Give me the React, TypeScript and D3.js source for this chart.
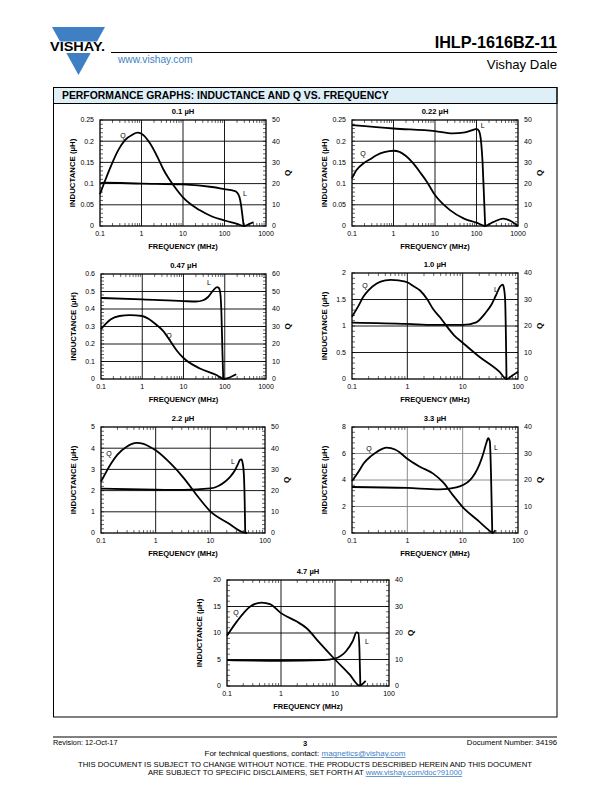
import React from 'react';
import * as d3 from 'd3';

const FONT = "'Liberation Sans', Arial, Helvetica, sans-serif";
const BLUE = '#3f7fc4';

// ---------- DATA ----------
// 0.1 uH
const c1_Lf = [0.1, 0.12, 1, 10, 50, 100, 170, 200, 230, 250, 270, 290];
const c1_Lv = [0.1, 0.102, 0.1, 0.098, 0.092, 0.087, 0.083, 0.079, 0.068, 0.05, 0.025, 0];
const c1_Qf = [0.1, 0.13, 0.19, 0.28, 0.4, 0.6, 0.8, 1.0, 1.6, 2.5, 3.3, 4.5, 6, 10, 25, 50, 100, 200, 300, 400, 500];
const c1_Qv = [15, 21, 29, 36, 40.5, 43, 44, 43.5, 39, 32, 27, 22.5, 19, 13.5, 7.5, 4.5, 2.6, 1, 0, 1, 1.8];
// 0.22 uH
const c2_Lf = [0.1, 1, 10, 27, 48, 80, 100, 115, 130, 140, 150, 162];
const c2_Lv = [0.238, 0.23, 0.224, 0.2185, 0.22, 0.226, 0.229, 0.224, 0.195, 0.15, 0.08, 0];
const c2_Qf = [0.1, 0.13, 0.19, 0.3, 0.4, 0.6, 1, 1.4, 2, 3, 4.5, 6.3, 10, 23, 50, 100, 160, 250, 440, 650, 1000];
const c2_Qv = [22.5, 26.5, 29.6, 32, 33.5, 34.8, 35.5, 35, 33, 29.5, 25, 21, 14.6, 7.5, 3.5, 1.6, 0, 1.8, 3.5, 2.5, 0];
// 0.47 uH
const c3_Lf = [0.1, 1, 10, 20, 30, 40, 52, 65, 72, 78, 83, 88, 92];
const c3_Lv = [0.463, 0.455, 0.445, 0.443, 0.45, 0.47, 0.505, 0.525, 0.52, 0.49, 0.38, 0.15, 0];
const c3_Qf = [0.1, 0.13, 0.17, 0.28, 0.5, 1, 1.5, 2.2, 3.2, 5, 7, 10, 25, 63, 95, 135, 190];
const c3_Qv = [28.5, 31.5, 34, 36, 36.5, 36, 34, 31, 27.5, 21, 16, 12, 6, 2.3, 0, 1, 2.7];
// 1.0 uH
const c4_Lf = [0.1, 1, 3, 10, 17.6, 26, 33, 40, 48, 53, 56, 58.5, 60.5, 62];
const c4_Lv = [1.065, 1.04, 1.02, 1.02, 1.07, 1.25, 1.4, 1.58, 1.75, 1.78, 1.7, 1.5, 0.8, 0];
const c4_Qf = [0.1, 0.13, 0.16, 0.2, 0.28, 0.4, 0.5, 0.7, 1, 1.3, 1.7, 2.3, 2.9, 4, 5.1, 7, 10, 20, 46, 62, 79, 100];
const c4_Qv = [23.5, 27.5, 31, 33.5, 36, 37.2, 37.4, 37.2, 36.5, 35, 33.4, 30, 26.5, 23, 20, 16.5, 13.7, 8.4, 2.75, 0, 1.3, 2.8];
// 2.2 uH
const c5_Lf = [0.1, 1, 3.3, 10, 14, 18.5, 23, 28.4, 32, 35, 37, 39, 41, 42.5, 43.5];
const c5_Lv = [2.09, 2.04, 2.03, 2.1, 2.22, 2.42, 2.65, 2.97, 3.25, 3.45, 3.47, 3.3, 2.8, 1.5, 0];
const c5_Qf = [0.1, 0.153, 0.2, 0.29, 0.45, 0.6, 0.79, 1, 1.87, 3.3, 5.9, 10, 21, 40, 47];
const c5_Qv = [24.2, 32.8, 37, 40.6, 42.5, 42, 40.6, 39, 32.8, 25.8, 17.2, 10.2, 4.7, 0.3, 0];
// 3.3 uH
const c6_Lf = [0.1, 1, 3.86, 7.7, 13.4, 20.2, 24, 26.6, 29, 31, 32.5, 34.3];
const c6_Lv = [3.47, 3.4, 3.3, 3.45, 3.97, 5.2, 6.1, 6.75, 7.15, 6.9, 4.5, 0];
const c6_Qf = [0.1, 0.13, 0.162, 0.22, 0.28, 0.425, 0.6, 0.74, 1, 1.69, 2.93, 4.4, 6.7, 10, 20.2, 32.7, 35, 39];
const c6_Qv = [19.6, 23, 26.2, 29, 30.6, 32.2, 31.5, 30.3, 28, 25, 22.4, 19.2, 14.2, 9.8, 4.2, 0.4, 0, 1];
// 4.7 uH
const c7_Lf = [0.1, 1, 6, 10, 16, 21.2, 25.1, 27, 28.3, 29.5];
const c7_Lv = [4.875, 4.75, 4.875, 5.19, 6.56, 8.44, 10.1, 10, 7.2, 0];
const c7_Qf = [0.1, 0.153, 0.27, 0.44, 0.625, 1, 1.93, 2.95, 5.2, 10, 18.6, 28.3, 31.5, 37];
const c7_Qv = [19, 24.4, 30, 31.5, 30.9, 27.5, 24.4, 21.9, 16.25, 10, 4.4, 0.25, 0.6, 1.9];

const titles = ['0.1 µH', '0.22 µH', '0.47 µH', '1.0 µH', '2.2 µH', '3.3 µH', '4.7 µH'];
const xMaxes = [1000, 1000, 1000, 100, 100, 100, 100];
const lMaxes = [0.25, 0.25, 0.6, 2, 5, 8, 20];
const lSteps = [0.05, 0.05, 0.1, 0.5, 1, 2, 5];
const qMaxes = [50, 50, 60, 40, 50, 40, 40];
const qSteps = [10, 10, 10, 10, 10, 10, 10];

// ---------- LAYOUT ----------
const boxes = [
  [100, 120, 266, 226],
  [352, 120, 518, 226],
  [101, 274, 266, 379],
  [352, 273, 518, 379],
  [101, 427, 265, 533],
  [352, 427, 518, 533],
  [227, 580, 389, 686],
];
// label anchors in data units [freq, left-axis value]
const qLabelAt = [[0.358, 0.2146], [0.184, 0.172], [4.45, 0.251], [0.172, 1.755], [0.14, 3.77], [0.203, 6.34], [0.147, 13.96]];
const lLabelAt = [[312, 0.0778], [141, 0.238], [41.5, 0.549], [40, 1.68], [25.9, 3.35], [40, 6.42], [39.1, 8.49]];
const gridColors = ['#000', '#000', '#000', '#000', '#000', '#808080', '#000'];

const series = [
  [c1_Lf, c1_Lv, c1_Qf, c1_Qv],
  [c2_Lf, c2_Lv, c2_Qf, c2_Qv],
  [c3_Lf, c3_Lv, c3_Qf, c3_Qv],
  [c4_Lf, c4_Lv, c4_Qf, c4_Qv],
  [c5_Lf, c5_Lv, c5_Qf, c5_Qv],
  [c6_Lf, c6_Lv, c6_Qf, c6_Qv],
  [c7_Lf, c7_Lv, c7_Qf, c7_Qv],
];

const fmt = (v: number) => String(+v.toFixed(3));

function Chart({ i }: { i: number }) {
  const [x0, y0, x1, y1] = boxes[i];
  const xMax = xMaxes[i];
  const x = d3.scaleLog().domain([0.1, xMax]).range([x0, x1]);
  const yL = d3.scaleLinear().domain([0, lMaxes[i]]).range([y1, y0]);
  const yQ = d3.scaleLinear().domain([0, qMaxes[i]]).range([y1, y0]);
  const [Lf, Lv, Qf, Qv] = series[i];
  const Ldata = Lf.map((f, k) => [f, Lv[k]] as [number, number]);
  const Qdata = Qf.map((f, k) => [f, Qv[k]] as [number, number]);
  const lineL = d3.line<[number, number]>().x(d => x(d[0])).y(d => yL(d[1])).curve(d3.curveMonotoneX);
  const lineQ = d3.line<[number, number]>().x(d => x(d[0])).y(d => yQ(d[1])).curve(d3.curveMonotoneX);

  const decades: number[] = [];
  for (let d = 0.1; d <= xMax * 1.001; d *= 10) decades.push(+d.toPrecision(3));
  const minorX: number[] = [];
  decades.forEach(d => { for (let m = 2; m <= 9; m++) if (d * m < xMax) minorX.push(d * m); });
  const lTicks = d3.range(0, lMaxes[i] + lSteps[i] / 2, lSteps[i]);
  const qTicks = d3.range(0, qMaxes[i] + qSteps[i] / 2, qSteps[i]);
  const minorY = d3.range(0, lMaxes[i] + 1e-9, lSteps[i] / 5);
  const gc = gridColors[i];
  const cx = (x0 + x1) / 2;
  const cy = (y0 + y1) / 2;

  return (
    <g fontFamily={FONT}>
      {decades.slice(1, -1).map((d, k) => (
        <line key={'gx' + k} x1={x(d)} x2={x(d)} y1={y0} y2={y1} stroke={gc} strokeWidth={0.9} />
      ))}
      {lTicks.slice(1, -1).map((v, k) => (
        <line key={'gy' + k} x1={x0} x2={x1} y1={yL(v)} y2={yL(v)} stroke={gc} strokeWidth={0.9} />
      ))}
      {minorX.map((f, k) => (
        <g key={'mx' + k}>
          <line x1={x(f)} x2={x(f)} y1={y1} y2={y1 - 3} stroke="#000" strokeWidth={0.6} />
          <line x1={x(f)} x2={x(f)} y1={y0} y2={y0 + 3} stroke="#000" strokeWidth={0.6} />
        </g>
      ))}
      {minorY.map((v, k) => (
        <g key={'my' + k}>
          <line x1={x0} x2={x0 + 3} y1={yL(v)} y2={yL(v)} stroke="#000" strokeWidth={0.6} />
          <line x1={x1} x2={x1 - 3} y1={yL(v)} y2={yL(v)} stroke="#000" strokeWidth={0.6} />
        </g>
      ))}
      <rect x={x0} y={y0} width={x1 - x0} height={y1 - y0} fill="none" stroke="#000" strokeWidth={1.3} />
      <path d={lineL(Ldata) || ''} fill="none" stroke="#000" strokeWidth={1.8} strokeLinejoin="round" />
      <path d={lineQ(Qdata) || ''} fill="none" stroke="#000" strokeWidth={1.8} strokeLinejoin="round" />
      <text x={x(qLabelAt[i][0])} y={yL(qLabelAt[i][1])} fontSize={7} fill="#000" textAnchor="middle" dominantBaseline="central">Q</text>
      <text x={x(lLabelAt[i][0])} y={yL(lLabelAt[i][1])} fontSize={7} fill="#000" textAnchor="middle" dominantBaseline="central">L</text>
      {decades.map((d, k) => (
        <text key={'tx' + k} x={x(d)} y={y1 + 10} fontSize={7} textAnchor="middle">{fmt(d)}</text>
      ))}
      {lTicks.map((v, k) => (
        <text key={'tl' + k} x={x0 - 6} y={yL(v) + 2.4} fontSize={7} textAnchor="end">{fmt(v)}</text>
      ))}
      {qTicks.map((v, k) => (
        <text key={'tq' + k} x={x1 + 6} y={yQ(v) + 2.4} fontSize={7} textAnchor="start">{fmt(v)}</text>
      ))}
      <text x={cx} y={y0 - 6} fontSize={7.6} fontWeight="bold" textAnchor="middle">{titles[i]}</text>
      <text x={cx} y={y1 + 23} fontSize={7.5} fontWeight="bold" textAnchor="middle">FREQUENCY (MHz)</text>
      <text transform={`translate(${x0 - 28},${cy}) rotate(-90)`} fontSize={7.8} fontWeight="bold" textAnchor="middle" dominantBaseline="central">INDUCTANCE (µH)</text>
      <text transform={`translate(${x1 + 21},${cy}) rotate(-90)`} fontSize={8} fontWeight="bold" textAnchor="middle" dominantBaseline="central">Q</text>
    </g>
  );
}

function Logo() {
  const top = 27, tip = 75, half = 26.5, cx = 78.5;
  const w = (y: number) => half * (tip - y) / (tip - top);
  const gapA = 41.5, gapB = 53;
  return (
    <g>
      <polygon points={`${cx - half},${top} ${cx + half},${top} ${cx + w(gapA)},${gapA} ${cx - w(gapA)},${gapA}`} fill={BLUE} />
      <polygon points={`${cx - w(gapB)},${gapB} ${cx + w(gapB)},${gapB} ${cx},${tip}`} fill={BLUE} />
      <text x={50} y={50.5} fontFamily={FONT} fontSize={12} fontWeight="bold" textLength={55} lengthAdjust="spacingAndGlyphs">VISHAY.</text>
    </g>
  );
}

export default function App() {
  return (
    <svg width={612} height={792} style={{ position: 'absolute', left: 0, top: 0, background: '#fff' }} fontFamily={FONT}>
      <rect x={0} y={0} width={612} height={792} fill="#fff" />
      <Logo />
      <text x={557} y={48} fontSize={16.2} fontWeight="bold" textAnchor="end">IHLP-1616BZ-11</text>
      <line x1={111} x2={557} y1={52.5} y2={52.5} stroke="#000" strokeWidth={1} />
      <text x={118} y={63} fontSize={10.2} fill={BLUE}>www.vishay.com</text>
      <text x={557} y={69} fontSize={13.2} textAnchor="end">Vishay Dale</text>

      <rect x={53.5} y={87.5} width={503.5} height={16} fill="#deeff8" stroke="#000" strokeWidth={1} />
      <rect x={53.5} y={87.5} width={503.5} height={629.5} fill="none" stroke="#000" strokeWidth={1} />
      <text x={62} y={99} fontSize={10.4} fontWeight="bold">PERFORMANCE GRAPHS: INDUCTANCE AND Q VS. FREQUENCY</text>

      {titles.map((_, i) => <Chart key={i} i={i} />)}

      <line x1={53} x2={557} y1={737} y2={737} stroke="#000" strokeWidth={1} />
      <text x={53} y={745} fontSize={7.3}>Revision: 12-Oct-17</text>
      <text x={305} y={746} fontSize={7.5} fontWeight="bold" textAnchor="middle">3</text>
      <text x={557} y={745} fontSize={7.7} textAnchor="end">Document Number: 34196</text>
      <text x={305} y={756} fontSize={8} textAnchor="middle">
        For technical questions, contact: <tspan fill={BLUE} textDecoration="underline">magnetics@vishay.com</tspan>
      </text>
      <text x={305} y={767} fontSize={7.7} textAnchor="middle">THIS DOCUMENT IS SUBJECT TO CHANGE WITHOUT NOTICE. THE PRODUCTS DESCRIBED HEREIN AND THIS DOCUMENT</text>
      <text x={305} y={775} fontSize={7.7} textAnchor="middle">
        ARE SUBJECT TO SPECIFIC DISCLAIMERS, SET FORTH AT <tspan fill={BLUE} textDecoration="underline">www.vishay.com/doc?91000</tspan>
      </text>
    </svg>
  );
}
